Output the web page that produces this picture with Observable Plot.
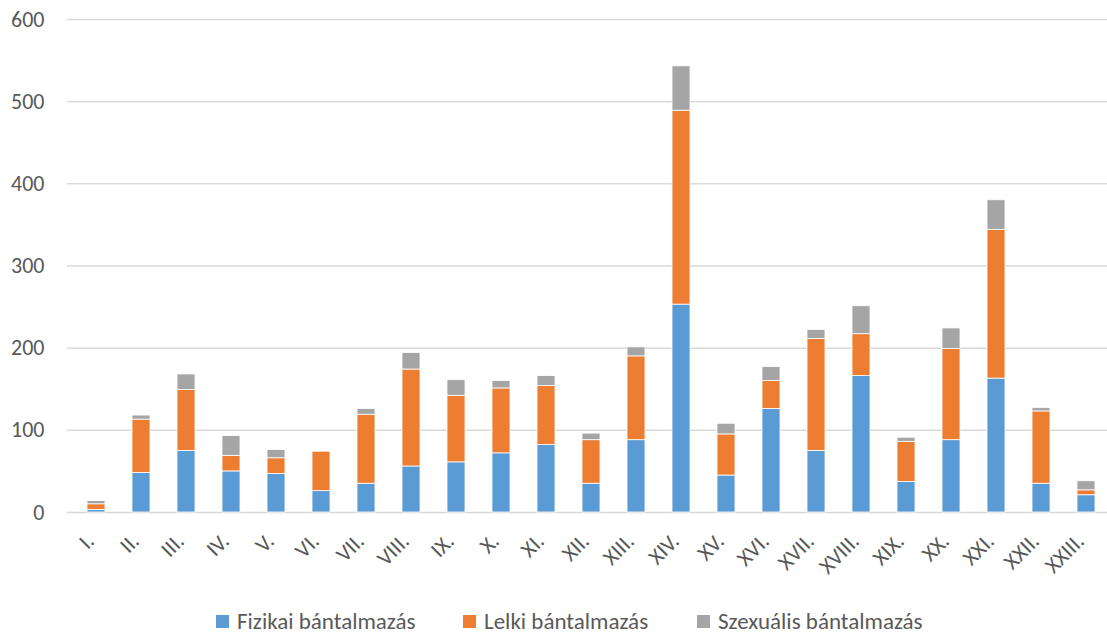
<!DOCTYPE html>
<html>
<head>
<meta charset="utf-8">
<script src="https://cdn.jsdelivr.net/npm/d3@7"></script>
<script src="https://cdn.jsdelivr.net/npm/@observablehq/plot@0.6"></script>
<style>
  html, body { margin: 0; padding: 0; background: #fff; }
  body { width: 1107px; height: 633px; overflow: hidden; font-family: Carlito, Calibri, Lato, sans-serif; position: relative; }
  #legend { position: absolute; top: 0; left: 0; width: 1107px; height: 633px; pointer-events: none; font-size: 23px; color: #595959; }
  .item { position: absolute; top: 609px; display: flex; align-items: center; height: 24px; line-height: 24px; white-space: nowrap; }
  .sw { width: 13px; height: 13px; margin-right: 8px; }
</style>
</head>
<body>
<div id="chart"></div>
<div id="legend"></div>
<script>
const districts = ["I.","II.","III.","IV.","V.","VI.","VII.","VIII.","IX.","X.","XI.","XII.","XIII.","XIV.","XV.","XVI.","XVII.","XVIII.","XIX.","XX.","XXI.","XXII.","XXIII."];
const fizikai   = [3, 48, 75, 50, 47, 26, 35, 56, 61, 72, 82, 35, 88, 253, 45, 126, 75, 166, 37, 88, 163, 35, 21];
const lelki     = [7, 65, 74, 19, 19, 48, 84, 118, 81, 79, 72, 53, 102, 236, 50, 34, 136, 51, 49, 111, 181, 88, 6];
const szexualis = [4, 5, 19, 24, 10, 0, 7, 20, 19, 9, 12, 8, 11, 54, 13, 17, 11, 34, 5, 25, 36, 4, 11];
const seriesNames = ["Fizikai bántalmazás", "Lelki bántalmazás", "Szexuális bántalmazás"];
const seriesColors = ["#5B9BD5", "#ED7D31", "#A5A5A5"];
const yTicks = [0, 100, 200, 300, 400, 500, 600];
const legendLefts = [216, 463, 697];

const seriesValues = [fizikai, lelki, szexualis];
const data = districts.flatMap((d, i) => seriesNames.map((s, j) => ({district: d, series: s, value: seriesValues[j][i]})));

const fontFamily = "Carlito, Calibri, Lato, sans-serif";
const chart = Plot.plot({
  width: 1107,
  height: 600,
  marginTop: 19,
  marginBottom: 88,
  marginLeft: 67,
  marginRight: 0,
  style: {fontFamily, fontSize: "22px", color: "#595959", background: "#fff"},
  x: {domain: districts, range: [53.6, 1127.4], padding: 0.6, label: null},
  y: {domain: [0, 600], label: null},
  color: {domain: seriesNames, range: seriesColors},
  marks: [
    Plot.ruleY(yTicks, {stroke: "#d9d9d9", strokeWidth: 1.5}),
    Plot.barY(data, {x: "district", y: "value", fill: "series", order: seriesNames, stroke: "#fff", strokeWidth: 0.8}),
    Plot.axisY(yTicks, {tickSize: 0, tickPadding: 23, label: null, fill: "#595959", fontSize: 22}),
    Plot.axisX({tickSize: 0, tickPadding: 25, tickRotate: -45, label: null, fill: "#595959", fontSize: 22, dx: -6})
  ]
});
document.getElementById("chart").appendChild(chart);

const legend = document.getElementById("legend");
seriesNames.forEach((s, j) => {
  const it = document.createElement("div");
  it.className = "item";
  it.style.left = legendLefts[j] + "px";
  const sw = document.createElement("span");
  sw.className = "sw";
  sw.style.background = seriesColors[j];
  const tx = document.createElement("span");
  tx.textContent = s;
  it.appendChild(sw);
  it.appendChild(tx);
  legend.appendChild(it);
});
</script>
</body>
</html>
